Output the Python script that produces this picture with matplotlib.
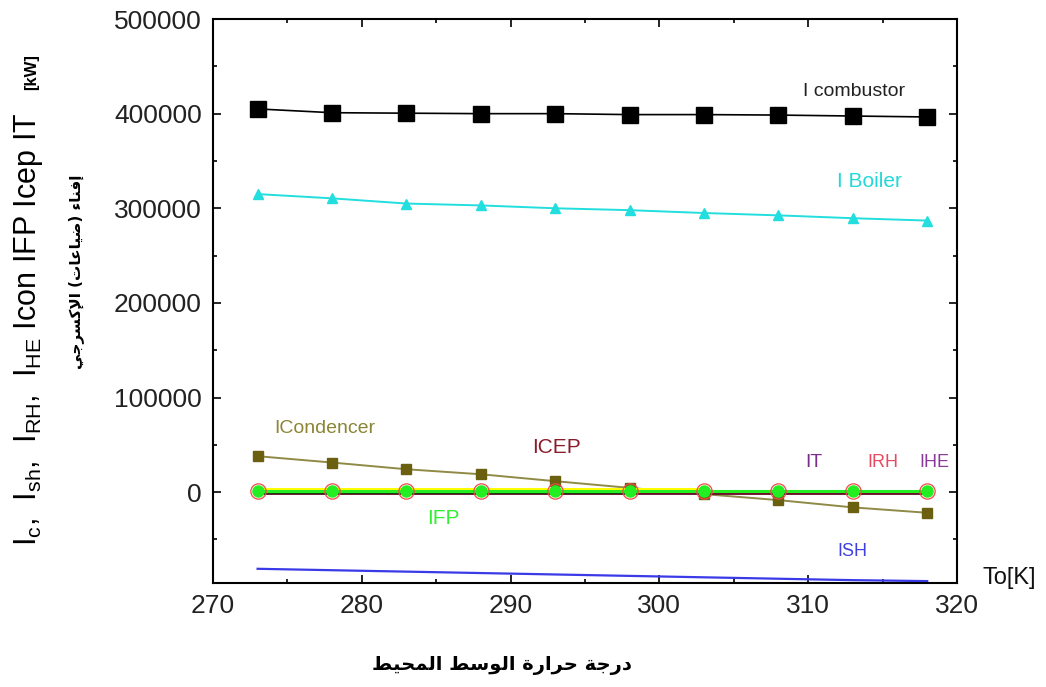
import numpy as np
import matplotlib
matplotlib.use("Agg")
import matplotlib.pyplot as plt
from matplotlib.ticker import MultipleLocator

plt.rcParams['font.family'] = ['Liberation Sans', 'DejaVu Sans']
plt.rcParams['mathtext.fontset'] = 'custom'
plt.rcParams['mathtext.rm'] = 'Liberation Sans'

# ambient temperature [K]
to_k = [273, 278, 283, 288, 293, 298, 303, 308, 313, 318]

# exergy destruction [kW]
i_combustor = [405000, 401000, 400500, 400000, 400000, 399000, 399000, 398500, 397500, 396500]
i_boiler = [315000, 310500, 305000, 303000, 300000, 298000, 295000, 292500, 289500, 287000]
i_condencer = [38000, 31300, 24200, 18900, 11600, 4500, -2100, -8400, -16100, -21800]
i_sh = [-81000, -82500, -84000, -85500, -87000, -88500, -90000, -91500, -93000, -94000]
i_fp = [1500, 1500, 1500, 1500, 1500, 1500, 1500, 1500, 1500, 1500]
i_rh = [1500, 1500, 1500, 1500, 1500, 1500, 1500, 1500, 1500, 1500]
i_cep = [0, 0, 0, 0, 0, 0, 0, 0, 0, 0]
i_he = [0, 0, 0, 0, 0, 0]          # 273..298
i_t = [2800, 2800, 2800, 2800, 2800, 2800, 2800]   # 273..303


# 🔤 minimal Arabic shaping (presentation forms + right-to-left order)
FORMS = {
    'ء': ('\uFE80',),
    'إ': ('\uFE87', '\uFE88'),
    'ا': ('\uFE8D', '\uFE8E'),
    'ة': ('\uFE93', '\uFE94'),
    'ت': ('\uFE95', '\uFE96', '\uFE97', '\uFE98'),
    'ج': ('\uFE9D', '\uFE9E', '\uFE9F', '\uFEA0'),
    'ح': ('\uFEA1', '\uFEA2', '\uFEA3', '\uFEA4'),
    'د': ('\uFEA9', '\uFEAA'),
    'ر': ('\uFEAD', '\uFEAE'),
    'س': ('\uFEB1', '\uFEB2', '\uFEB3', '\uFEB4'),
    'ض': ('\uFEBD', '\uFEBE', '\uFEBF', '\uFEC0'),
    'ط': ('\uFEC1', '\uFEC2', '\uFEC3', '\uFEC4'),
    'ع': ('\uFEC9', '\uFECA', '\uFECB', '\uFECC'),
    'ف': ('\uFED1', '\uFED2', '\uFED3', '\uFED4'),
    'ك': ('\uFED9', '\uFEDA', '\uFEDB', '\uFEDC'),
    'ل': ('\uFEDD', '\uFEDE', '\uFEDF', '\uFEE0'),
    'م': ('\uFEE1', '\uFEE2', '\uFEE3', '\uFEE4'),
    'ن': ('\uFEE5', '\uFEE6', '\uFEE7', '\uFEE8'),
    'و': ('\uFEED', '\uFEEE'),
    'ي': ('\uFEF1', '\uFEF2', '\uFEF3', '\uFEF4'),
    'لا': ('\uFEFB', '\uFEFC'),
    'لإ': ('\uFEF9', '\uFEFA'),
}


def arabic(text):
    units = []
    i = 0
    while i < len(text):
        if text[i] == 'ل' and i + 1 < len(text) and text[i + 1] in 'اإ':
            units.append(text[i:i + 2])
            i += 2
        else:
            units.append(text[i])
            i += 1
    out = []
    for k, u in enumerate(units):
        if u not in FORMS:
            out.append(u)
            continue
        f = FORMS[u]
        prev = units[k - 1] if k > 0 else None
        nxt = units[k + 1] if k + 1 < len(units) else None
        joins_prev = prev in FORMS and len(FORMS[prev]) == 4 and len(f) > 1
        joins_next = len(f) == 4 and nxt in FORMS and len(FORMS[nxt]) > 1
        if joins_prev and joins_next:
            out.append(f[3])
        elif joins_next:
            out.append(f[2])
        elif joins_prev:
            out.append(f[1])
        else:
            out.append(f[0])
    s = ''.join(reversed(out))
    return s.translate(str.maketrans('()', ')('))


fig = plt.figure(figsize=(10.46, 6.87), dpi=100)
ax = fig.add_axes([0.2036, 0.1514, 0.7113, 0.8209])

ax.plot(to_k, i_combustor, color='black', lw=1.2, marker='s', ms=11)
ax.plot(to_k, i_boiler, color='#22dede', lw=1.4, marker='^', ms=7)
ax.plot(to_k, i_condencer, color='#8f8a45', lw=1.4, marker='s', ms=7,
        mfc='#6b6010', mec='#6b6010')
ax.plot(to_k, i_sh, color='#3a3ae8', lw=1.6)
ax.plot(to_k, i_cep, color='#6a1028', lw=3.5)
ax.plot(to_k[:6], i_he, color='#1f3a10', lw=3)
ax.plot(to_k[:7], i_t, color='#ffff00', lw=2.2)
ax.plot(to_k, i_fp, color='#22ee22', lw=2.2, marker='o', ms=8, mec='#22ee22')
ax.plot(to_k, i_rh, ls='none', marker='o', ms=11, mfc='none', mec='#f04848', mew=0.9)

ax.set_xlim(270, 320)
ax.set_ylim(-96000, 500000)
ax.xaxis.set_major_locator(MultipleLocator(10))
ax.xaxis.set_minor_locator(MultipleLocator(5))
ax.set_yticks([0, 100000, 200000, 300000, 400000, 500000])
ax.yaxis.set_minor_locator(MultipleLocator(50000))
ax.tick_params(which='both', direction='in', top=True, right=True, labelsize=19,
               colors='black', labelcolor='#222222')
ax.tick_params(which='major', length=6, width=1.2, pad=8)
ax.tick_params(which='minor', length=3, width=1.2)
for sp in ax.spines.values():
    sp.set_linewidth(1.5)

# curve labels
ax.text(313.1, 423000, 'I combustor', color='#222222', fontsize=14, ha='center', va='center')
ax.text(314.1, 328000, 'I Boiler', color='#22d8d8', fontsize=15, ha='center', va='center')
ax.text(277.5, 67000, 'ICondencer', color='#8b8535', fontsize=14, ha='center', va='center')
ax.text(293.1, 47000, 'ICEP', color='#8b1a2a', fontsize=15, ha='center', va='center')
ax.text(310.4, 31000, 'IT', color='#7b2d8b', fontsize=14, ha='center', va='center')
ax.text(315.0, 31000, 'IRH', color='#e84860', fontsize=13, ha='center', va='center')
ax.text(318.5, 31000, 'IHE', color='#8b3a9b', fontsize=13, ha='center', va='center')
ax.text(285.5, -28000, 'IFP', color='#33ee33', fontsize=15, ha='center', va='center')
ax.text(313.0, -63000, 'ISH', color='#4040e0', fontsize=13, ha='center', va='center')

# axis titles
fig.text(0.965, 0.158, 'To[K]', fontsize=17, color='#111111', ha='center', va='center')
fig.text(0.48, 0.032, arabic('درجة حرارة الوسط المحيط'), family=['DejaVu Sans'],
         fontsize=14, fontweight='bold', ha='center', va='center')
fig.text(0.027, 0.52,
         r'$\mathregular{I_c}$,  $\mathregular{I_{sh}}$,  $\mathregular{I_{RH}}$,  '
         r'$\mathregular{I_{HE}}$ Icon IFP Icep IT',
         fontsize=22, rotation=90, ha='center', va='center')
fig.text(0.030, 0.895, '[kW]', fontsize=12, fontweight='bold', rotation=90,
         ha='center', va='center')
fig.text(0.073, 0.605, arabic('إفناء (ضياعات) الإكسرجي'), family=['DejaVu Sans'],
         fontsize=11, fontweight='bold', rotation=90, ha='center', va='center')

fig.savefig('out.png', dpi=100)
